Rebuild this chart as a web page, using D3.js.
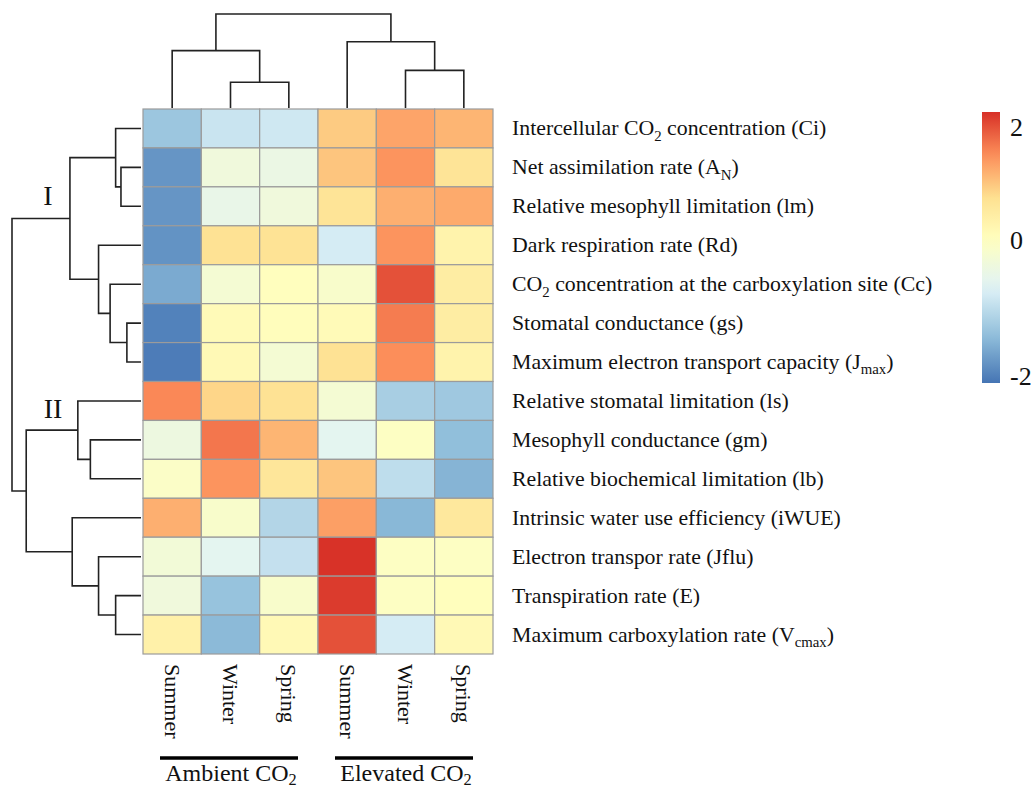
<!DOCTYPE html>
<html>
<head>
<meta charset="utf-8">
<script src="https://cdn.jsdelivr.net/npm/d3@7"></script>
<style>
  body{ margin:0; background:#fff; }
  text{ font-family:"Liberation Serif","Times New Roman",serif; fill:#111; }
</style>
</head>
<body>
<div id="chart"></div>
<script>

// columns (seasons) and their treatment groups
const columns = ["Summer", "Winter", "Spring", "Summer", "Winter", "Spring"];
const groupNames = ["Ambient CO_{2}", "Elevated CO_{2}"];
const groupCols = [[0, 2], [3, 5]];

// rows, in dendrogram order
const rows = [
    "Intercellular CO_{2} concentration (Ci)",
    "Net assimilation rate (A_{N})",
    "Relative mesophyll limitation (lm)",
    "Dark respiration rate (Rd)",
    "CO_{2} concentration at the carboxylation site (Cc)",
    "Stomatal conductance (gs)",
    "Maximum electron transport capacity (J_{max})",
    "Relative stomatal limitation (ls)",
    "Mesophyll conductance (gm)",
    "Relative biochemical limitation (lb)",
    "Intrinsic water use efficiency (iWUE)",
    "Electron transpor rate (Jflu)",
    "Transpiration rate (E)",
    "Maximum carboxylation rate (V_{cmax})"
];

// scaled values, one array per row (A-Sum, A-Win, A-Spr, E-Sum, E-Win, E-Spr)
const values = [
    [-1.30, -0.90, -0.85,  0.95,  1.30,  1.15],
    [-1.80, -0.35, -0.45,  1.00,  1.45,  0.65],
    [-1.80, -0.50, -0.35,  0.65,  1.20,  1.25],
    [-1.82,  0.70,  0.68, -0.80,  1.45,  0.30],
    [-1.60, -0.25,  0.02, -0.15,  2.00,  0.45],
    [-1.98,  0.12,  0.05,  0.12,  1.65,  0.45],
    [-2.03,  0.15, -0.25,  0.70,  1.50,  0.30],
    [ 1.55,  0.85,  0.70, -0.25, -1.20, -1.28],
    [-0.40,  1.70,  1.15, -0.60, -0.05, -1.40],
    [-0.10,  1.45,  0.60,  1.00, -1.00, -1.50],
    [ 1.20, -0.15, -1.10,  1.35, -1.47,  0.55],
    [-0.30, -0.60, -0.95,  2.25, -0.05, -0.05],
    [-0.35, -1.35, -0.15,  2.18, -0.05,  0.03],
    [ 0.35, -1.45,  0.15,  2.00, -0.80,  0.15]
];

// hclust style merges: negative = leaf (1-based), positive = earlier merge
const rowMerge = [
    [-2, -3, 2.03], [-1, 1, 2.57], [-6, -7, 1.43], [-5, 3, 3.13],
    [-4, 4, 4.30], [2, 5, 7.20], [-9, -10, 5.13], [-8, 7, 6.40],
    [-13, -14, 2.57], [-12, 9, 4.30], [-11, 10, 6.97], [8, 11, 11.63],
    [6, 12, 13.07]
];
const colMerge = [
    [-2, -3, 2.6], [-5, -6, 3.8], [-1, 1, 5.8], [-4, 2, 6.7], [3, 4, 9.5]
];

const clusterLabels = ["I", "II"];

// colour bar
const legendTicks = [2, 0, -2];
const valueMin = -2.1, valueMax = 2.27;
const palette = ["#4575B4", "#91BFDB", "#E0F3F8", "#FFFFBF", "#FEE090", "#FC8D59", "#D73027"];


const width = 1031, height = 792;
const mLeft = 143, mTop = 109, mRight = 493, mBottom = 654;

const svg = d3.select("#chart").append("svg")
    .attr("width", width)
    .attr("height", height);

const x = d3.scaleBand().domain(d3.range(columns.length)).range([mLeft, mRight]);
const y = d3.scaleBand().domain(d3.range(rows.length)).range([mTop, mBottom]);

let negStep = -valueMin/3, posStep = valueMax/3;
const color = d3.scaleLinear()
    .domain([valueMin, -2*negStep, -negStep, 0, posStep, 2*posStep, valueMax])
    .range(palette)
    .interpolate(d3.interpolateRgb);

// writes "a_{b}c" as text with lowered small tspans
function richText(sel, str, size, lower){
    lower = lower || 0.25;
    let parts = str.split(/(_\{[^}]*\})/).filter(s => s.length);
    let shift = 0;
    parts.forEach(p => {
        if(p.startsWith("_{")){
            sel.append("tspan")
                .attr("font-size", size*0.68)
                .attr("dy", size*lower - shift)
                .text(p.slice(2, -1));
            shift = size*lower;
        } else {
            sel.append("tspan")
                .attr("dy", -shift)
                .text(p);
            shift = 0;
        }
    });
}

// cells
values.forEach((row, i) => {
    svg.selectAll(null)
        .data(row)
        .enter()
        .append("rect")
        .attr("x", (d, j) => x(j))
        .attr("y", y(i))
        .attr("width", x.bandwidth())
        .attr("height", y.bandwidth())
        .attr("fill", d => color(d))
        .attr("stroke", "#9b9b9b")
        .attr("stroke-width", 1.2);
});

// dendrogram from merges; posScale(leaf index) and hScale(height) give screen coords
function drawDendro(merge, posScale, hScale, vertical){
    let nodes = [];
    let get = k => k < 0 ? {p: posScale(-k-1), h: 0} : nodes[k-1];
    let path = d3.path();
    merge.forEach(m => {
        let a = get(m[0]), b = get(m[1]);
        let hy = hScale(m[2]);
        if(vertical){
            path.moveTo(a.p, hScale(a.h));
            path.lineTo(a.p, hy);
            path.lineTo(b.p, hy);
            path.lineTo(b.p, hScale(b.h));
        } else {
            path.moveTo(hScale(a.h), a.p);
            path.lineTo(hy, a.p);
            path.lineTo(hy, b.p);
            path.lineTo(hScale(b.h), b.p);
        }
        nodes.push({p: (a.p + b.p)/2, h: m[2]});
    });
    svg.append("path")
        .attr("d", path)
        .attr("fill", "none")
        .attr("stroke", "#222")
        .attr("stroke-width", 1.6);
}

const colH = d3.scaleLinear().domain([0, d3.max(colMerge, d => d[2])]).range([mTop - 1, 14]);
drawDendro(colMerge, j => x(j) + x.bandwidth()/2, colH, true);

const rowH = d3.scaleLinear().domain([0, d3.max(rowMerge, d => d[2])]).range([mLeft - 2, 12]);
drawDendro(rowMerge, i => y(i) + y.bandwidth()/2, rowH, false);

// cluster labels
svg.selectAll(null)
    .data(clusterLabels)
    .enter()
    .append("text")
    .attr("x", (d, i) => i === 0 ? 48 : 53)
    .attr("y", (d, i) => i === 0 ? 205 : 418)
    .attr("text-anchor", "middle")
    .attr("font-size", 28)
    .text(d => d);

// row labels
rows.forEach((r, i) => {
    let t = svg.append("text")
        .attr("x", 512)
        .attr("y", y(i) + y.bandwidth()/2 + 7)
        .attr("font-size", 21.8);
    richText(t, r, 21.8);
});

// column labels, rotated
svg.selectAll(null)
    .data(columns)
    .enter()
    .append("text")
    .attr("transform", (d, j) => `translate(${x(j) + x.bandwidth()/2},${mBottom + 10}) rotate(90)`)
    .attr("dominant-baseline", "central")
    .attr("font-size", 22)
    .text(d => d);

// treatment groups
groupNames.forEach((g, k) => {
    let x0 = x(groupCols[k][0]) + 17, x1 = x(groupCols[k][1]) + x.bandwidth() - 20;
    svg.append("line")
        .attr("x1", x0).attr("x2", x1)
        .attr("y1", 758).attr("y2", 758)
        .attr("stroke", "#000")
        .attr("stroke-width", 3.5);
    let t = svg.append("text")
        .attr("x", (x0 + x1)/2 + 2)
        .attr("y", 781)
        .attr("text-anchor", "middle")
        .attr("font-size", 24);
    richText(t, g, 24, 0.18);
});

// colour bar
const legendY = d3.scaleLinear().domain([valueMin, -2, 0, 2, valueMax]).range([383, 376, 240, 127, 112]);

let grad = svg.append("defs").append("linearGradient")
    .attr("id", "bar")
    .attr("x1", 0).attr("x2", 0).attr("y1", 1).attr("y2", 0);
d3.range(0, 1.0001, 0.05).forEach(f => {
    let v = valueMin + f*(valueMax - valueMin);
    grad.append("stop")
        .attr("offset", (383 - legendY(v))/(383 - 112))
        .attr("stop-color", color(v));
});

svg.append("rect")
    .attr("x", 982)
    .attr("y", legendY(valueMax))
    .attr("width", 18)
    .attr("height", legendY(valueMin) - legendY(valueMax))
    .attr("fill", "url(#bar)");

svg.selectAll(null)
    .data(legendTicks)
    .enter()
    .append("text")
    .attr("x", 1010)
    .attr("y", d => legendY(d))
    .attr("dominant-baseline", "central")
    .attr("font-size", 26)
    .text(d => d);

</script>
</body>
</html>
